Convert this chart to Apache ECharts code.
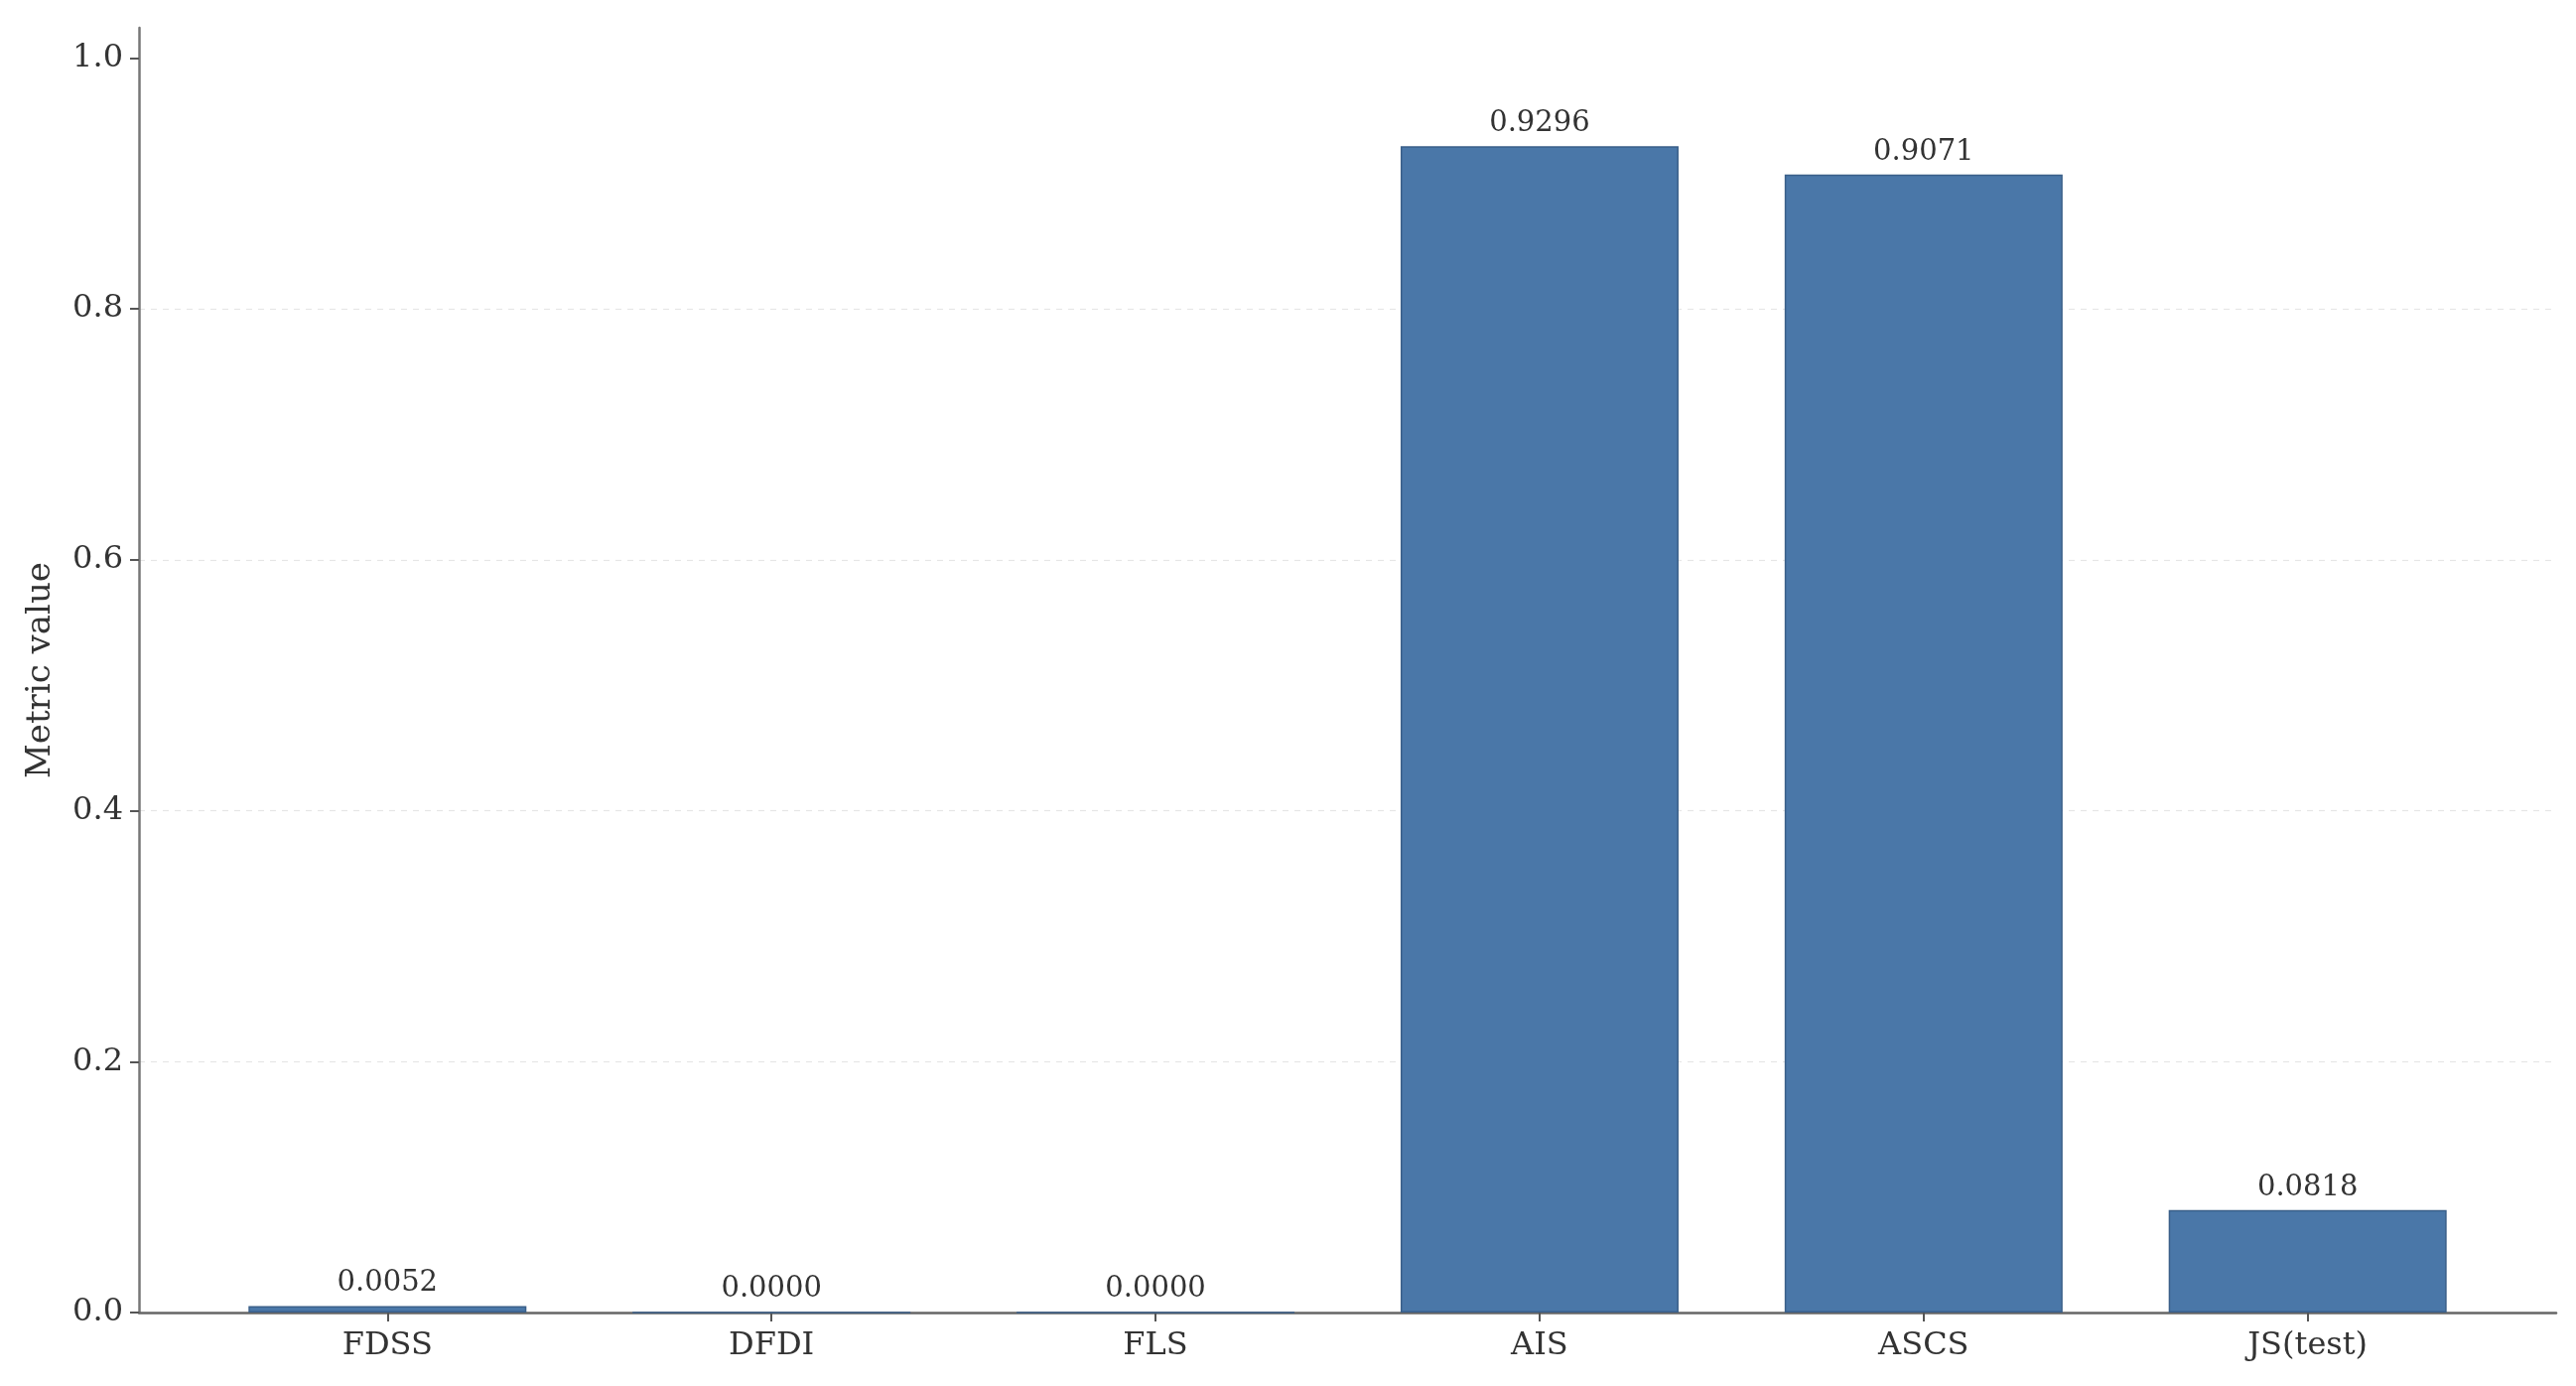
<!DOCTYPE html>
<html>
<head>
<meta charset="utf-8">
<script src="https://cdn.jsdelivr.net/npm/echarts@6/dist/echarts.min.js"></script>
<style>
  html, body { margin: 0; padding: 0; background: #fff; }
  #chart { width: 2595px; height: 1396px; }
</style>
</head>
<body>
<div id="chart"></div>
<script>
// metric names and values
const categories = ['FDSS', 'DFDI', 'FLS', 'AIS', 'ASCS', 'JS(test)'];
const values = [0.0052, 0.0000, 0.0000, 0.9296, 0.9071, 0.0818];
const yTicks = [0, 0.2, 0.4, 0.6, 0.8, 1.0];
const xTicks = categories.map((c, i) => i);

const font = 'DejaVu Serif';
const chart = echarts.init(document.getElementById('chart'));

const option = {
  animation: false,
  backgroundColor: '#fff',
  grid: { left: 140, right: 20, top: 28, bottom: 74 },
  xAxis: {
    type: 'value',
    min: -0.647,
    max: 5.647,
    axisLine: { show: true, onZero: false, lineStyle: { color: '#666', width: 2.5 } },
    axisTick: {
      show: true,
      customValues: xTicks,
      length: 9,
      lineStyle: { color: '#555', width: 2 }
    },
    axisLabel: {
      customValues: xTicks,
      formatter: (v) => categories[Math.round(v)],
      fontFamily: font,
      fontSize: 32,
      color: '#333',
      margin: 18
    },
    splitLine: { show: false }
  },
  yAxis: {
    type: 'value',
    min: 0,
    max: 1.024,
    interval: 0.2,
    name: 'Metric value',
    nameLocation: 'middle',
    nameGap: 82,
    nameTextStyle: { fontFamily: font, fontSize: 34, color: '#333' },
    axisLine: { show: true, onZero: false, lineStyle: { color: '#777', width: 2.5 } },
    axisTick: {
      show: true,
      customValues: yTicks,
      length: 9,
      lineStyle: { color: '#555', width: 2 }
    },
    axisLabel: {
      customValues: yTicks,
      formatter: (v) => v.toFixed(1),
      fontFamily: font,
      fontSize: 32,
      color: '#333',
      margin: 16
    },
    splitLine: {
      show: true,
      showMinLine: false,
      showMaxLine: false,
      lineStyle: { color: '#e6e6e6', type: [6, 6], width: 1.2 }
    }
  },
  series: [{
    type: 'bar',
    data: values.map((v, i) => [i, v]),
    barWidth: 280,
    itemStyle: { color: '#4a77a8', borderColor: '#3a5f89', borderWidth: 1.5 },
    label: {
      show: true,
      position: 'top',
      distance: 8,
      formatter: (p) => p.value[1].toFixed(4),
      fontFamily: font,
      fontSize: 29,
      color: '#333'
    }
  }]
};

chart.setOption(option);
</script>
</body>
</html>
